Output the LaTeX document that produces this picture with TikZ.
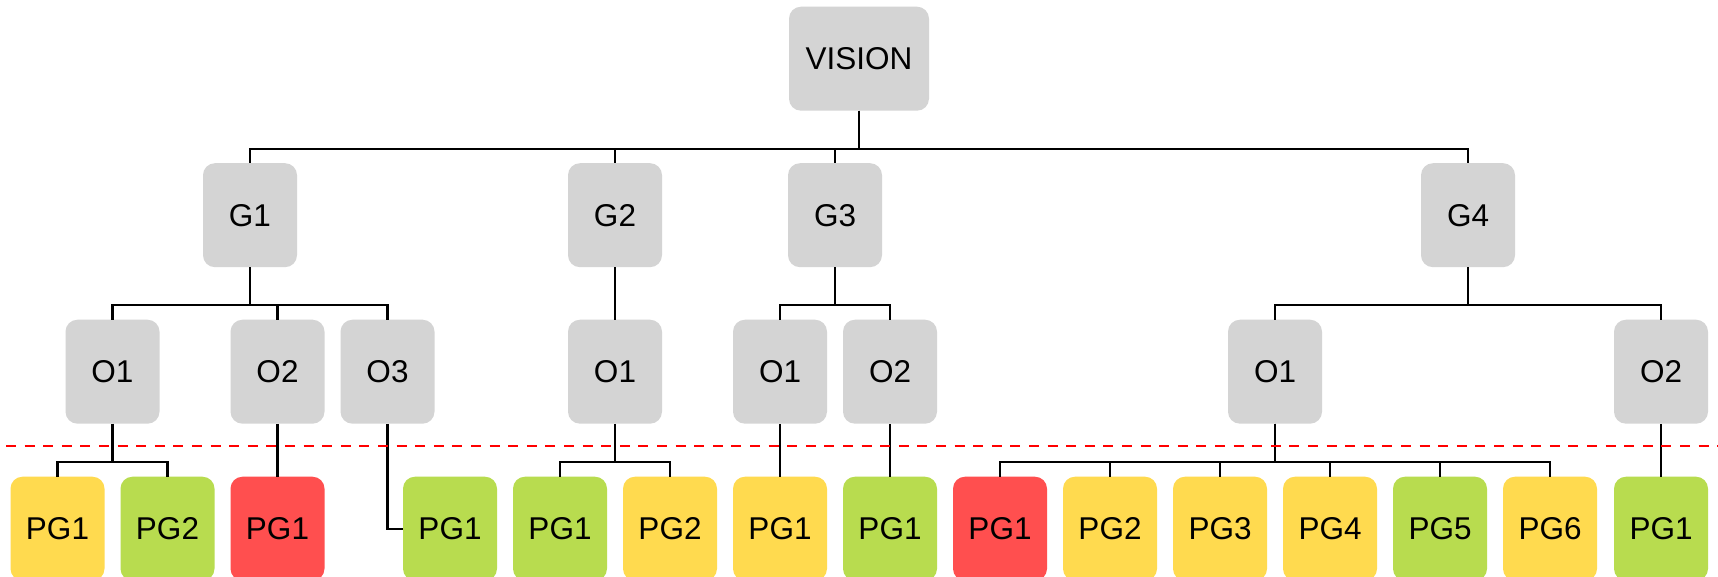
\documentclass[tikz,border=0pt]{standalone}
\usepackage{fontspec}
\setmainfont{Liberation Sans}
\definecolor{boxgray}{HTML}{D4D4D4}
\definecolor{pgyellow}{HTML}{FFDA4F}
\definecolor{pggreen}{HTML}{B8DC4F}
\definecolor{pgred}{HTML}{FF4F4F}
\definecolor{dashred}{HTML}{FF0000}
\tikzset{
  box/.style={rectangle, rounded corners=12pt, minimum width=94pt, minimum height=104pt, inner sep=0pt, text=black, font=\fontsize{31.5}{38}\selectfont},
  graybox/.style={box, fill=boxgray},
  yel/.style={box, fill=pgyellow},
  grn/.style={box, fill=pggreen},
  rd/.style={box, fill=pgred},
  conn/.style={draw=black, line width=2.2pt},
  cut/.style={draw=dashred, line width=2.6pt, dash pattern=on 10pt off 8.6pt}
}
\begin{document}
\begin{tikzpicture}[x=1pt, y=-1pt]
\clip (0,0) rectangle (1718,577);
\fill[white] (0,0) rectangle (1718,577);
% bus coordinates
\coordinate (busV) at (0,149);
\coordinate (busG) at (0,305);
\coordinate (busO) at (0,462);
% nodes
\node[graybox, minimum width=140pt] (V) at (859,58.7) {VISION};
\node[graybox] (G1) at (250,215.2) {G1};
\node[graybox] (G2) at (615,215.2) {G2};
\node[graybox] (G3) at (835,215.2) {G3};
\node[graybox] (G4) at (1468,215.2) {G4};
\node[graybox] (G1O1) at (112.5,371.7) {O1};
\node[graybox] (G1O2) at (277.5,371.7) {O2};
\node[graybox] (G1O3) at (387.5,371.7) {O3};
\node[graybox] (G2O1) at (615,371.7) {O1};
\node[graybox] (G3O1) at (780,371.7) {O1};
\node[graybox] (G3O2) at (890,371.7) {O2};
\node[graybox] (G4O1) at (1275,371.7) {O1};
\node[graybox] (G4O2) at (1661,371.7) {O2};
\node[yel] (P1) at (57.5,528.7) {PG1};
\node[grn] (P2) at (167.5,528.7) {PG2};
\node[rd]  (P3) at (277.5,528.7) {PG1};
\node[grn] (P4) at (450,528.7) {PG1};
\node[grn] (P5) at (560,528.7) {PG1};
\node[yel] (P6) at (670,528.7) {PG2};
\node[yel] (P7) at (780,528.7) {PG1};
\node[grn] (P8) at (890,528.7) {PG1};
\node[rd]  (P9) at (1000,528.7) {PG1};
\node[yel] (P10) at (1110,528.7) {PG2};
\node[yel] (P11) at (1220,528.7) {PG3};
\node[yel] (P12) at (1330,528.7) {PG4};
\node[grn] (P13) at (1440,528.7) {PG5};
\node[yel] (P14) at (1550,528.7) {PG6};
\node[grn] (P15) at (1661,528.7) {PG1};
% dashed separator
\coordinate (cutL) at (6,446);
\coordinate (cutR) at (1718,446);
% connectors
\foreach \c in {G1,G2,G3,G4}
  \draw[conn] (V.south) -- (V.south |- busV) -| (\c.north);
\foreach \c in {G1O1,G1O2,G1O3}
  \draw[conn] (G1.south) -- (G1.south |- busG) -| (\c.north);
\draw[conn] (G2.south) -- (G2O1.north);
\foreach \c in {G3O1,G3O2}
  \draw[conn] (G3.south) -- (G3.south |- busG) -| (\c.north);
\foreach \c in {G4O1,G4O2}
  \draw[conn] (G4.south) -- (G4.south |- busG) -| (\c.north);
\foreach \c in {P1,P2}
  \draw[conn] (G1O1.south) -- (G1O1.south |- busO) -| (\c.north);
\draw[conn] (G1O2.south) -- (P3.north);
\draw[conn] (G1O3.south) |- (P4.west);
\foreach \c in {P5,P6}
  \draw[conn] (G2O1.south) -- (G2O1.south |- busO) -| (\c.north);
\draw[conn] (G3O1.south) -- (P7.north);
\draw[conn] (G3O2.south) -- (P8.north);
\foreach \c in {P9,P10,P11,P12,P13,P14}
  \draw[conn] (G4O1.south) -- (G4O1.south |- busO) -| (\c.north);
\draw[conn] (G4O2.south) -- (P15.north);
\draw[cut] (cutL) -- (cutR);
\end{tikzpicture}
\end{document}
